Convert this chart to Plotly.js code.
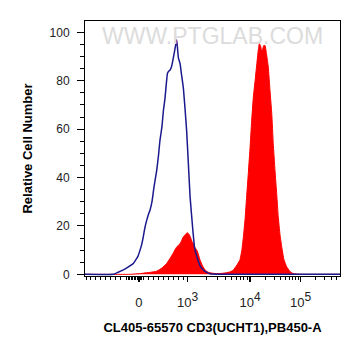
<!DOCTYPE html>
<html>
<head>
<meta charset="utf-8">
<script src="https://cdn.plot.ly/plotly-3.0.1.min.js"></script>
<style>html,body{margin:0;padding:0;background:#fff;}#chart{width:361px;height:356px;}</style>
</head>
<body>
<div id="chart"></div>
<script>
// x values are display channels (0-1024) of the biexponential PB450-A scale
const isotypeChannel = [0,114,132,154,173,194,213,221,228,234,241,248,254,261,269,277,288,295,301,309,315,321,331,337,341,348,354,361,368,371,375,382,387,395,402,408,415,422,433,440,449,462,475,489,502,542,703,1024];
const isotypeCount   = [0,0,0.8,1.8,3.0,4.5,7.5,10,12.5,15.5,19.5,22.4,24.5,26.5,30,36,43,49,55.4,61,67.8,72.5,83,84,84.3,86,89,93,97,94,89.5,87,83,77,68,59.6,46,32,18.3,11,7.3,3.5,1.8,0.8,0.2,0,0,0];

const cd3Channel = [0,181,221,261,288,309,328,341,354,363,369,378,386,395,403,411,418,424,430,435,442,449,456,462,472,482,494,509,526,542,566,582,596,608,622,630,636,643,649,656,663,669,676,683,690,695,700,705,709,713,717,723,729,736,743,750,756,763,770,776,783,790,799,810,823,836,863,1024];
const cd3Count   = [0,0,0.3,0.8,1.3,2.6,4.5,6.5,8.7,10.5,11.4,12.2,13.5,15.5,16.5,17.2,16.5,15.2,13.5,12.8,11,10,8,5.9,3.5,1.8,0.9,0.5,0.3,0.3,0.6,1.0,1.8,3.5,5.9,10,15.5,23,32,42,52.7,63,73.3,80,87.1,92,95.3,94.5,92.6,92.8,94.5,94.6,91,85.7,76,66.4,54,43,33,23.8,16.5,11.4,6,3.1,1.2,0.3,0,0];

const xTickChannel = [216, 412, 663, 866];
const xTickLabel = ['0', '10<sup><span style="font-size:12px">3</span></sup>', '10<sup><span style="font-size:12px">4</span></sup>', '10<sup><span style="font-size:12px">5</span></sup>'];
const yTickVals = [0, 20, 40, 60, 80, 100];

// minor tick channels of the biexponential axis
const minorX = [];
for (let c = 4; c <= 144; c += 20) minorX.push(c);
for (let c = 168; c <= 234; c += 6) minorX.push(c);
for (let c = 254; c <= 394; c += 20) minorX.push(c);
const decades = [[412.4, 250.2], [662.6, 203.6], [866.2, 203.6]];
decades.forEach(([start, width]) => {
  for (let m = 2; m <= 9; m++) {
    const v = start + Math.log10(m) * width;
    if (v < 1024) minorX.push(v);
  }
});

const traces = [
  {
    x: cd3Channel, y: cd3Count, type: 'scatter', mode: 'lines',
    fill: 'tozeroy', fillcolor: '#ff0000',
    line: {color: '#ff0000', width: 1, shape: 'spline', smoothing: 0.3},
    hoverinfo: 'skip'
  },
  {
    x: isotypeChannel, y: isotypeCount, type: 'scatter', mode: 'lines',
    line: {color: '#1a1a8e', width: 1.5, shape: 'spline', smoothing: 0.3},
    hoverinfo: 'skip'
  }
];

const layout = {
  width: 361, height: 356,
  margin: {l: 85, r: 21, t: 21, b: 80},
  paper_bgcolor: '#ffffff', plot_bgcolor: '#ffffff',
  showlegend: false,
  font: {family: 'Arial, "Liberation Sans", sans-serif', color: '#222'},
  xaxis: {
    range: [0, 1024], tickmode: 'array', tickvals: xTickChannel, ticktext: xTickLabel,
    ticks: 'outside', ticklen: 5, tickwidth: 1.5, tickcolor: '#000',
    ticklabelstandoff: 9,
    minor: {tickmode: 'array', tickvals: minorX, ticks: 'outside', ticklen: 3, tickwidth: 1, tickcolor: '#000'},
    showline: true, linecolor: '#000', linewidth: 1, mirror: true,
    showgrid: false, zeroline: false,
    tickfont: {size: 13, color: '#222'},
    title: {text: '<b>CL405-65570 CD3(UCHT1),PB450-A</b>', font: {size: 13, color: '#000'}, standoff: 14}
  },
  yaxis: {
    range: [-0.7, 104.7], tickmode: 'array', tickvals: yTickVals,
    ticks: 'outside', ticklen: 7, tickwidth: 1, tickcolor: '#000',
    ticklabelstandoff: 5,
    minor: {dtick: 5, ticks: 'outside', ticklen: 4, tickwidth: 1, tickcolor: '#000'},
    showline: true, linecolor: '#000', linewidth: 1, mirror: true,
    showgrid: false, zeroline: false,
    tickfont: {size: 12, color: '#222'},
    title: {text: '<b>Relative Cell Number</b>', font: {size: 13, color: '#000'}, standoff: 14}
  },
  annotations: [{
    text: 'WWW.PTGLAB.COM', xref: 'paper', yref: 'paper', x: 0.5, y: 1.0,
    xanchor: 'center', yanchor: 'top', showarrow: false,
    font: {size: 23, color: '#dcdcdc', family: 'Arial, "Liberation Sans", sans-serif'}
  }]
};

Plotly.newPlot('chart', traces, layout, {staticPlot: true, displayModeBar: false});
</script>
</body>
</html>
